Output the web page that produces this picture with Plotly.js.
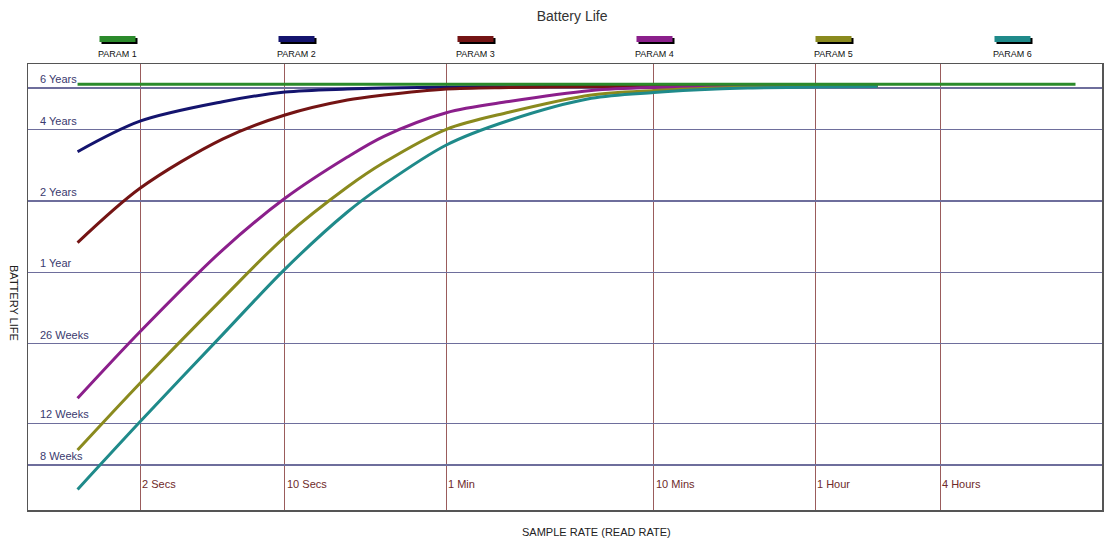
<!DOCTYPE html>
<html>
<head>
<meta charset="utf-8">
<script src="https://cdn.plot.ly/plotly-3.0.1.min.js"></script>
<style>html,body{margin:0;padding:0;background:#fff;}#chart{width:1113px;height:543px;}</style>
</head>
<body>
<div id="chart"></div>
<script>
// ---- data (x: sample interval in seconds, y: battery life in weeks) ----
const seriesNames = ['PARAM 1', 'PARAM 2', 'PARAM 3', 'PARAM 4', 'PARAM 5', 'PARAM 6'];
const seriesColors = ['#2b8a2b', '#14146e', '#741414', '#8b1f8b', '#8a8a1e', '#1f8a8a'];

const param1Secs = [1, 64800];
const param1Life = [324, 324];

const sampleSecs = [1, 2, 5, 10, 20, 30, 60, 120, 300, 600, 1200, 1800, 3600, 7200];
const param2Life = [168, 226, 273, 300, 309, 312, 315, 316, 316.5, 316.5, 316.5, 316.5, 316.5, 316.5];
const param3Life = [69.4, 117.7, 190, 240, 277.6, 291.5, 309, 313.6, 316, 316.5, 316.5, 316.5, 316.5, 316.5];
const param4Life = [15.3, 29.2, 64.6, 106.8, 159.5, 195.1, 245.4, 273.4, 304.5, 313.6, 316, 316.5, 316.5, 316.5];
const param5Life = [9.25, 17.7, 40.3, 73.5, 119.2, 151.2, 208.9, 246.4, 291.5, 304.5, 312, 315, 316.5, 316.5];
const param6Life = [6.31, 12.18, 28.4, 53.7, 93.5, 122, 179.3, 227.5, 282.3, 298.7, 309, 312, 315, 316.5];

const yTickVals = [312, 208, 104, 52, 26, 12, 8];
const yTickText = ['6 Years', '4 Years', '2 Years', '1 Year', '26 Weeks', '12 Weeks', '8 Weeks'];
const xTickVals = [2, 10, 60, 600, 3600, 14400];
const xTickText = ['2 Secs', '10 Secs', '1 Min', '10 Mins', '1 Hour', '4 Hours'];

const FONT = 'Liberation Sans, Arial, sans-serif';

const curveData = [
  [sampleSecs, param2Life], [sampleSecs, param3Life], [sampleSecs, param4Life],
  [sampleSecs, param5Life], [sampleSecs, param6Life]
];

const traces = [];
curveData.forEach((d, k) => {
  traces.push({
    x: d[0], y: d[1], name: seriesNames[k + 1], type: 'scatter', mode: 'lines',
    line: {color: seriesColors[k + 1], width: 3, shape: 'spline', smoothing: 0.9},
    showlegend: false, hoverinfo: 'x+y+name'
  });
});
traces.push({
  x: param1Secs, y: param1Life, name: seriesNames[0], type: 'scatter', mode: 'lines',
  line: {color: seriesColors[0], width: 3}, showlegend: false
});

const shapes = [];
const annotations = [];
// custom legend: bar above label, evenly spaced across plot width
seriesNames.forEach((nm, i) => {
  const cx = (i + 0.5) / seriesNames.length;
  shapes.push({type: 'rect', xref: 'paper', yref: 'paper', xsizemode: 'pixel', ysizemode: 'pixel',
    xanchor: cx, yanchor: 1.056, x0: -16, x1: 20, y0: -5, y1: 1, fillcolor: '#000', line: {width: 0}});
  shapes.push({type: 'rect', xref: 'paper', yref: 'paper', xsizemode: 'pixel', ysizemode: 'pixel',
    xanchor: cx, yanchor: 1.056, x0: -18, x1: 18, y0: -3, y1: 3, fillcolor: seriesColors[i], line: {width: 0}});
  annotations.push({text: nm, xref: 'paper', yref: 'paper', x: cx, y: 1.0224, xanchor: 'center', yanchor: 'middle',
    showarrow: false, font: {family: FONT, size: 9, color: '#111'}});
});
// y labels inside plot, above gridlines
yTickVals.forEach((v, i) => {
  annotations.push({text: yTickText[i], xref: 'paper', yref: 'y', x: 0, y: Math.log10(v), xanchor: 'left', yanchor: 'bottom',
    xshift: 10, yshift: 1, showarrow: false, font: {family: FONT, size: 11, color: '#3a3a6e'}});
});
// x labels inside plot near bottom, right of gridlines
xTickVals.forEach((v, i) => {
  annotations.push({text: xTickText[i], xref: 'x', yref: 'paper', x: Math.log10(v), y: 0.058, xanchor: 'left', yanchor: 'middle',
    xshift: 0, showarrow: false, font: {family: FONT, size: 11, color: '#6e2a2a'}});
});
annotations.push({text: 'BATTERY LIFE', xref: 'paper', yref: 'paper', x: -0.013, y: 0.464, xanchor: 'center', yanchor: 'middle',
  textangle: 90, showarrow: false, font: {family: FONT, size: 11, color: '#222'}});
annotations.push({text: 'SAMPLE RATE (READ RATE)', xref: 'paper', yref: 'paper', x: 0.529, y: -0.05, xanchor: 'center', yanchor: 'middle',
  showarrow: false, font: {family: FONT, size: 11, color: '#222'}});

const layout = {
  width: 1113, height: 543,
  margin: {l: 28, r: 11, t: 64, b: 33},
  paper_bgcolor: '#fff', plot_bgcolor: '#fff',
  title: {text: 'Battery Life', x: 0.514, xref: 'container', y: 0.9705, yref: 'container', xanchor: 'center', yanchor: 'middle',
    font: {family: FONT, size: 14, color: '#333'}},
  showlegend: false,
  xaxis: {type: 'log', range: [-0.239, 4.9394], tickvals: xTickVals, ticktext: xTickText, showticklabels: false,
    showgrid: true, gridcolor: '#9a5c5c', gridwidth: 1, zeroline: false, ticks: '',
    showline: true, mirror: true, linecolor: '#555', linewidth: 1.5},
  yaxis: {type: 'log', range: [0.7131, 2.5955], tickvals: yTickVals, ticktext: yTickText, showticklabels: false,
    showgrid: true, gridcolor: '#6e6e9c', gridwidth: 1.3, zeroline: false, ticks: '',
    showline: true, mirror: true, linecolor: '#555', linewidth: 1.5},
  shapes: shapes,
  annotations: annotations
};

Plotly.newPlot('chart', traces, layout, {displayModeBar: false, staticPlot: true});
</script>
</body>
</html>
